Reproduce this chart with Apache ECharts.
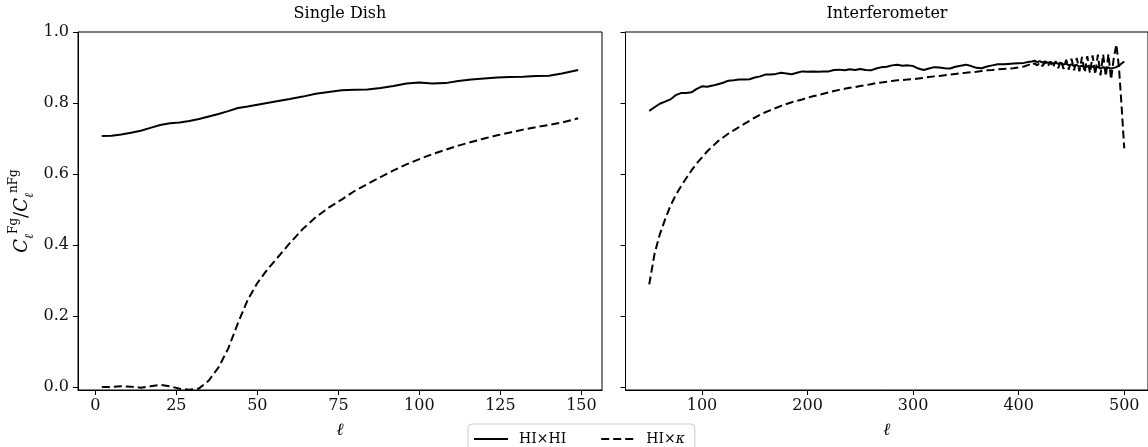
<!DOCTYPE html>
<html>
<head>
<meta charset="utf-8">
<script src="https://cdn.jsdelivr.net/npm/echarts@6/dist/echarts.min.js"></script>
<style>
html,body{margin:0;padding:0;background:#fff;}
#chart{width:1148px;height:447px;}
</style>
</head>
<body>
<div id="chart"></div>
<script>
// ---- Data ----
const panelTitles = ['Single Dish', 'Interferometer'];
const seriesNames = ['HI×HI', 'HI×κ'];

const sdEll = [2,5,8,11,14,17,20,23,26,29,32,35,38,41,44,47,50,53,56,60,64,68,72,76,80,84,88,92,96,100,104,108,112,116,120,124,128,132,136,140,144,149];
const sdAuto = [0.707,0.708,0.711,0.716,0.722,0.730,0.738,0.743,0.745,0.749,0.755,0.762,0.769,0.777,0.786,0.790,0.795,0.800,0.805,0.811,0.818,0.826,0.831,0.836,0.837,0.838,0.842,0.848,0.855,0.858,0.855,0.856,0.862,0.866,0.869,0.872,0.873,0.874,0.876,0.877,0.883,0.893];
const sdCross = [0.000,0.000,0.002,0.001,-0.002,0.002,0.006,0.002,-0.005,-0.008,-0.004,0.018,0.055,0.108,0.180,0.245,0.293,0.330,0.362,0.405,0.445,0.478,0.505,0.528,0.552,0.572,0.591,0.610,0.627,0.642,0.656,0.668,0.680,0.690,0.700,0.709,0.717,0.725,0.732,0.738,0.745,0.757];

const ifEll = [50,55,60,65,70,75,80,85,90,95,100,105,110,115,120,125,130,135,140,145,150,155,160,165,170,175,180,185,190,195,200,205,210,215,220,225,230,235,240,245,250,255,260,265,270,275,280,285,290,295,300,305,310,315,320,325,330,335,340,345,350,355,360,365,370,375,380,385,390,395,400,405,410,
  412.5,415,417.5,420,422.5,425,427.5,430,432.5,435,437.5,440,442.5,445,447.5,450,452.5,455,457.5,460,462.5,465,467.5,470,472.5,475,477.5,480,482.5,485,487.5,490,492.5,495,497.5,500];
const ifAuto = [0.778,0.788,0.798,0.804,0.810,0.822,0.828,0.828,0.830,0.840,0.847,0.846,0.849,0.853,0.857,0.863,0.864,0.866,0.866,0.867,0.872,0.875,0.880,0.880,0.882,0.885,0.883,0.881,0.885,0.889,0.888,0.889,0.888,0.889,0.889,0.893,0.894,0.892,0.895,0.893,0.896,0.893,0.892,0.897,0.901,0.902,0.906,0.908,0.905,0.906,0.904,0.897,0.893,0.897,0.901,0.900,0.898,0.897,0.902,0.905,0.908,0.904,0.899,0.898,0.903,0.906,0.909,0.909,0.910,0.911,0.912,0.913,0.916,
  0.917,0.919,0.915,0.918,0.914,0.917,0.913,0.916,0.911,0.914,0.910,0.913,0.908,0.911,0.906,0.909,0.904,0.907,0.902,0.905,0.900,0.904,0.899,0.903,0.898,0.902,0.897,0.901,0.896,0.900,0.897,0.899,0.901,0.905,0.911,0.917];
const ifCross = [0.289,0.375,0.430,0.472,0.510,0.540,0.565,0.588,0.610,0.630,0.647,0.664,0.678,0.692,0.703,0.714,0.723,0.732,0.741,0.750,0.759,0.767,0.774,0.780,0.786,0.792,0.797,0.802,0.806,0.810,0.815,0.819,0.822,0.826,0.830,0.834,0.837,0.840,0.843,0.845,0.848,0.850,0.853,0.856,0.858,0.860,0.862,0.864,0.865,0.866,0.867,0.869,0.871,0.873,0.875,0.876,0.878,0.880,0.882,0.884,0.885,0.887,0.888,0.890,0.892,0.893,0.895,0.896,0.897,0.898,0.900,0.903,0.908,
  0.905,0.912,0.906,0.914,0.904,0.915,0.903,0.916,0.900,0.918,0.898,0.920,0.896,0.922,0.894,0.925,0.892,0.927,0.889,0.930,0.886,0.932,0.884,0.934,0.880,0.936,0.878,0.937,0.875,0.938,0.866,0.925,0.965,0.900,0.790,0.672];

const sdXTicks = [0,25,50,75,100,125,150];
const ifXTicks = [100,200,300,400,500];
const yTicks = [0.0,0.2,0.4,0.6,0.8,1.0];

// ---- Chart ----
const FONT = 'DejaVu Serif';
const pair = (xs, ys) => xs.map((x, i) => [x, ys[i]]);

function xAxisCfg(grid, min, max, ticks) {
  return {
    type: 'value', gridIndex: grid, min: min, max: max,
    name: 'ℓ', nameLocation: 'middle', nameGap: 32,
    nameTextStyle: {fontFamily: FONT, fontStyle: 'italic', fontSize: 17, color: '#000'},
    axisLine: {show: true, onZero: false, lineStyle: {color: '#000', width: 1}},
    axisTick: {show: true, length: 5, lineStyle: {color: '#000'}, customValues: ticks},
    axisLabel: {show: true, fontFamily: FONT, fontSize: 16, color: '#111', margin: 8, customValues: ticks,
                formatter: v => String(Math.round(v))},
    splitLine: {show: false}
  };
}
function yAxisCfg(grid, showLabels) {
  const cfg = {
    type: 'value', gridIndex: grid, min: -0.0085, max: 1.0,
    axisLine: {show: true, onZero: false, lineStyle: {color: '#000', width: 1}},
    axisTick: {show: true, length: 5, lineStyle: {color: '#000'}, customValues: yTicks},
    axisLabel: {show: showLabels, fontFamily: FONT, fontSize: 16, color: '#111', margin: 9, customValues: yTicks,
                formatter: v => v.toFixed(1)},
    splitLine: {show: false}
  };
  if (showLabels) {
    cfg.name = '{c|C}{sb|ℓ}{sp|Fg}{s|/}{c|C}{sb|ℓ}{sp|nFg}';
    cfg.nameLocation = 'middle';
    cfg.nameGap = 42;
    cfg.nameRotate = 90;
    cfg.nameTextStyle = {
      fontFamily: FONT, color: '#000',
      rich: {
        c: {fontFamily: FONT, fontStyle: 'italic', fontSize: 18, lineHeight: 28, color: '#000'},
        s: {fontFamily: FONT, fontSize: 18, lineHeight: 28, color: '#000'},
        sp: {fontFamily: FONT, fontSize: 12, lineHeight: 14, verticalAlign: 'top', color: '#000'},
        sb: {fontFamily: FONT, fontStyle: 'italic', fontSize: 12, lineHeight: 14, verticalAlign: 'bottom', color: '#000'}
      }
    };
  }
  return cfg;
}
function lineSeries(name, xi, data, dashed) {
  return {
    type: 'line', name: name, xAxisIndex: xi, yAxisIndex: xi,
    data: data, showSymbol: false, symbol: 'none', smooth: false,
    lineStyle: {color: '#000', width: 2, type: dashed ? [8, 4] : 'solid'},
    itemStyle: {color: '#000'},
    animation: false, silent: true, clip: true
  };
}

const chart = echarts.init(document.getElementById('chart'), null, {renderer: 'canvas'});
chart.setOption({
  backgroundColor: '#fff',
  animation: false,
  title: [
    {text: panelTitles[0], left: 340, top: 6, textAlign: 'center', padding: 0,
     textStyle: {fontFamily: FONT, fontWeight: 'normal', fontSize: 16, color: '#000'}},
    {text: panelTitles[1], left: 887, top: 6, textAlign: 'center', padding: 0,
     textStyle: {fontFamily: FONT, fontWeight: 'normal', fontSize: 16, color: '#000'}}
  ],
  grid: [
    {left: 78, top: 32, width: 524, height: 358, show: true, borderColor: '#000', borderWidth: 1, backgroundColor: 'transparent'},
    {left: 625.5, top: 32, width: 524, height: 358, show: true, borderColor: '#000', borderWidth: 1, backgroundColor: 'transparent'}
  ],
  xAxis: [xAxisCfg(0, -5.35, 156.35, sdXTicks), xAxisCfg(1, 27.5, 522.5, ifXTicks)],
  yAxis: [yAxisCfg(0, true), yAxisCfg(1, false)],
  legend: {
    data: seriesNames, left: 468, top: 424, orient: 'horizontal',
    itemWidth: 34, itemHeight: 14, itemGap: 34,
    padding: [8, 10, 10, 5],
    borderColor: '#cccccc', borderWidth: 1, borderRadius: 4, backgroundColor: '#fff',
    itemStyle: {opacity: 0, borderWidth: 0},
    formatter: n => n.replace('κ', '{k|κ}'),
    textStyle: {fontFamily: FONT, fontSize: 14, color: '#000', padding: [0, 0, 0, 6],
                rich: {k: {fontFamily: FONT, fontStyle: 'italic', fontSize: 14, color: '#000'}}}
  },
  series: [
    lineSeries(seriesNames[0], 0, pair(sdEll, sdAuto), false),
    lineSeries(seriesNames[1], 0, pair(sdEll, sdCross), true),
    lineSeries(seriesNames[0], 1, pair(ifEll, ifAuto), false),
    lineSeries(seriesNames[1], 1, pair(ifEll, ifCross), true)
  ]
});
</script>
</body>
</html>
